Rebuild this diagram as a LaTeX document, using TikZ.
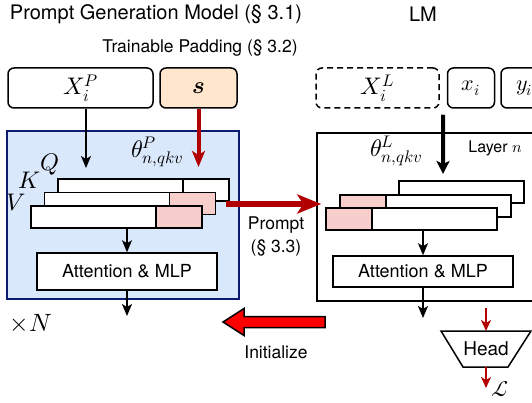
\documentclass[tikz,border=0pt]{standalone}
\usepackage{amsmath}
\usepackage{fontspec}
\usepackage{unicode-math}
\setmainfont{TeX Gyre Heros}
\setmathfont{latinmodern-math.otf}
\usetikzlibrary{positioning, arrows.meta, calc}

\definecolor{padfill}{HTML}{FFE6CC}
\definecolor{genfill}{HTML}{DAE8FC}
\definecolor{genline}{HTML}{0D1B6E}
\definecolor{prefill}{HTML}{F8CECC}
\definecolor{darkred}{HTML}{B20000}

\begin{document}
\begin{tikzpicture}[x=1pt, y=-1pt]
    \tikzset{
        lbl/.style={inner sep=0pt, font=\fontsize{17.5}{23}\selectfont},
        big/.style={inner sep=0pt, font=\fontsize{20}{24}\selectfont},
        sym/.style={inner sep=0pt, font=\fontsize{24}{28}\selectfont},
        tok/.style={draw, line width=1.5pt, rounded corners=6pt, inner sep=0pt,
            minimum height=40pt, font=\fontsize{24}{28}\selectfont},
        blk/.style={draw, line width=1.5pt, inner sep=0pt, fill=white,
            font=\fontsize{18}{22}\selectfont},
        bar/.style={draw, line width=1.3pt, fill=white, inner sep=0pt, outer sep=0pt,
            minimum height=22pt},
        flow/.style={-{Stealth[length=12pt, width=10pt, inset=3pt]}, line width=1.5pt},
        grad/.style={-{Stealth[length=11pt, width=10pt, inset=3pt]}, line width=1.8pt, darkred},
    }
    \useasboundingbox (0,0) rectangle (532,403);

    % headings
    \node[big] (pgm) at (156,14) {Prompt Generation Model (§ 3.1)};
    \node[big] (lm) at (423,14) {LM};
    \node[lbl] (pad) at (200,48) {Trainable Padding (§ 3.2)};

    % input tokens
    \node[tok, minimum width=145pt] (xp) at (80.5,88) {$X_i^P$};
    \node[tok, minimum width=77pt, fill=padfill] (s) at (198.5,88) {$\symbfit{s}$};
    \node[tok, dash pattern=on 6pt off 4pt, minimum width=123pt] (xl) at (377.5,88) {$X_i^L$};
    \node[tok, font=\fontsize{22}{26}\selectfont, minimum width=47pt, right=7pt of xl] (xi) {$x_i$};
    \node[tok, font=\fontsize{22}{26}\selectfont, minimum width=47pt, right=5pt of xi] (yi) {$y_i$};

    % the two layers
    \node[draw=genline, fill=genfill, line width=1.3pt, inner sep=0pt,
        minimum width=232pt, minimum height=168pt] (pgen) at (123,215) {};
    \node[draw, line width=1.5pt, inner sep=0pt,
        minimum width=243pt, minimum height=168pt] (lbox) at (438.5,217) {};

    \node[sym] (thp) at (157,152) {$\theta^P_{n,qkv}$};
    \node[sym] (thl) at (396,151) {$\theta^L_{n,qkv}$};
    \node[inner sep=0pt, font=\fontsize{16}{18}\selectfont] (lyr) at (495,148) {Layer $n$};

    \node[sym] (q) at (50,164) {$Q$};
    \node[sym] (k) at (30,180) {$K$};
    \node[sym] (v) at (16,203) {$V$};

    % q, k, v with padded prompt slots
    \foreach \nm/\x/\y/\c in {pq/58/179/white, pk/44.5/192.5/prefill, pv/31/206/prefill} {
        \node[bar, minimum width=125pt, anchor=north west] (\nm) at (\x,\y) {};
        \node[bar, minimum width=46pt, fill=\c, anchor=west] (\nm-pre) at (\nm.east) {};
    }

    \node[bar, minimum width=125pt, anchor=north west] (rq) at (399,181) {};
    \foreach \nm/\x/\y in {rk/340/195, rv/326/208} {
        \node[bar, minimum width=46pt, fill=prefill, anchor=north west] (\nm-pre) at (\x,\y) {};
        \node[bar, minimum width=125pt, anchor=west] (\nm) at (\nm-pre.east) {};
    }

    \node[blk, minimum width=180pt, minimum height=37pt] (attp) at (127,271.5) {Attention \& MLP};
    \node[blk, minimum width=180pt, minimum height=31pt] (attl) at (423,271.5) {Attention \& MLP};

    \node[inner sep=0pt, font=\fontsize{25}{28}\selectfont] (rep) at (31,323) {$\times N$};

    % output head
    \node[inner sep=0pt, font=\fontsize{19}{23}\selectfont] (head) at (486,349) {Head};
    \draw[line width=1.5pt] ($(head)+(-45,-18)$) -- ($(head)+(45,-18)$)
        -- ($(head)+(22,18)$) -- ($(head)+(-23,18)$) -- cycle;
    \node[inner sep=0pt, font=\fontsize{22}{26}\selectfont] (loss) at (500,389) {$\mathcal{L}$};

    % free ends
    \coordinate (pin) at (86,168);
    \coordinate (sin) at (198.5,167);
    \coordinate (lin) at (443,174);
    \coordinate (pout) at (127,316);
    \coordinate (lout) at (423,318);
    \coordinate (pfrom) at (226,204);
    \coordinate (hin) at (486,308);
    \coordinate (hout) at (486,388);

    % connectors
    \draw[flow] (xp.south -| pin) -- (pin);
    \draw[grad, line width=4pt, -{Stealth[length=16pt, width=13pt, inset=4pt]}] (s.south) -- (sin);
    \draw[line width=4pt, -{Stealth[length=13pt, width=13pt, inset=3pt]}, shorten <=6pt]
        ($(xl.south east)!.5!(xi.south west)$) -- (lin);

    \draw[flow] (pv.south -| attp.north) -- (attp.north);
    \draw[flow] (attp.south) -- (pout);
    \draw[flow] (rv.south -| attl.north) -- (attl.north);
    \draw[flow] (attl.south) -- (lout);

    \draw[darkred, line width=6pt, -{Stealth[length=24pt, width=19pt, inset=6pt]}, shorten >=-5pt]
        (pfrom) -- (pfrom -| lbox.west);
    \node[lbl, align=center] (prm) at (276,236) {Prompt\\(§ 3.3)};

    \draw[grad] (hin) -- ($(head)+(0,-18)$);
    \draw[grad] ($(head)+(0,18)$) -- (hout);

    % initialisation goes back to the generator
    \coordinate (itip) at (223,322);
    \draw[fill=red, line width=1.5pt, line join=miter] (itip) -- ++(21,-13.5) -- ++(0,8)
        -- ++(81,0) -- ++(0,11) -- ++(-81,0) -- ++(0,8) -- cycle;
    \node[lbl] (init) at (276,352) {Initialize};
\end{tikzpicture}
\end{document}
